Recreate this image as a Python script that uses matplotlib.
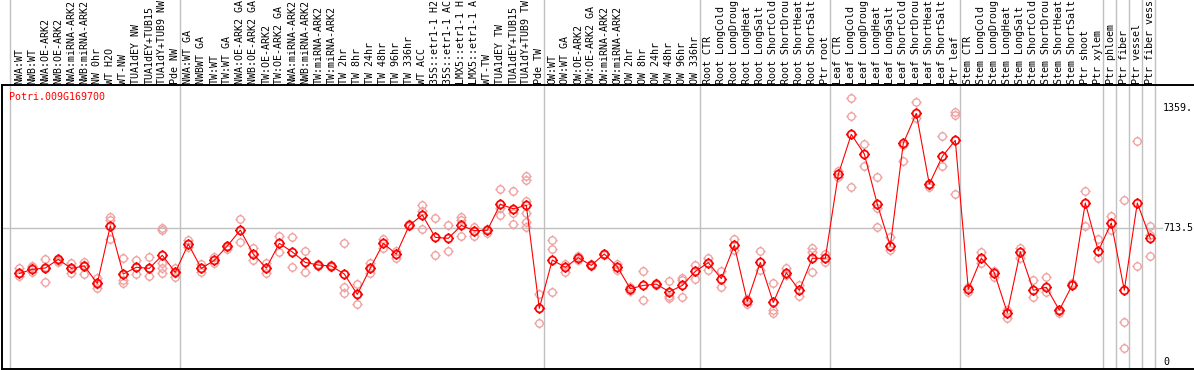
import matplotlib
matplotlib.use("Agg")
import matplotlib.pyplot as plt
from matplotlib.path import Path

gene = "Potri.009G169700"

labels = [
    "NWA:WT", "NWB:WT", "NWA:OE-ARK2", "NWB:OE-ARK2", "NWA:miRNA-ARK2", "NWB:miRNA-ARK2",
    "NW 0hr", "WT H2O", "WT-NW", "TUA1dEY NW", "TUA1dEY+TUB15", "TUA1dY+TUB9 NW", "Pde NW",
    "NWA:WT GA", "NWBWT GA", "TW:WT", "TW:WT GA", "NWA:OE-ARK2 GA", "NWB:OE-ARK2 GA",
    "TW:OE-ARK2", "TW:OE-ARK2 GA", "NWA:miRNA-ARK2", "NWB:miRNA-ARK2", "TW:miRNA-ARK2",
    "TW:miRNA-ARK2", "TW 2hr", "TW 8hr", "TW 24hr", "TW 48hr", "TW 96hr", "TW 336hr",
    "WT ACC", "35S::etr1-1 H2", "35S::etr1-1 AC", "LMX5::etr1-1 H", "LMX5::etr1-1 A",
    "WT-TW", "TUA1dEY TW", "TUA1dEY+TUB15", "TUA1dY+TUB9 TW", "Pde TW",
    "OW:WT", "OW:WT GA", "OW:OE-ARK2", "OW:OE-ARK2 GA", "OW:miRNA-ARK2", "OW:miRNA-ARK2",
    "OW 2hr", "OW 8hr", "OW 24hr", "OW 48hr", "OW 96hr", "OW 336hr",
    "Root CTR", "Root LongCold", "Root LongDroug", "Root LongHeat", "Root LongSalt",
    "Root ShortCold", "Root ShortDrou", "Root ShortHeat", "Root ShortSalt", "Ptr root",
    "Leaf CTR", "Leaf LongCold", "Leaf LongDroug", "Leaf LongHeat", "Leaf LongSalt",
    "Leaf ShortCold", "Leaf ShortDrou", "Leaf ShortHeat", "Leaf ShortSalt", "Ptr leaf",
    "Stem CTR", "Stem LongCold", "Stem LongDroug", "Stem LongHeat", "Stem LongSalt",
    "Stem ShortCold", "Stem ShortDrou", "Stem ShortHeat", "Stem ShortSalt", "Ptr shoot",
    "Ptr xylem", "Ptr phloem", "Ptr fiber", "Ptr vessel", "Ptr fiber vess",
]

means = [
    472, 494, 501, 547, 499, 512, 419, 726, 469, 505, 499, 569, 478,
    629, 499, 542, 619, 704, 576, 501, 633, 587, 531, 517, 512, 469, 360, 501, 633,
    576, 729, 785, 665, 660, 729, 701, 703, 842, 818, 836, 285,
    544, 505, 556, 515, 576, 508, 390, 408, 415, 374, 408, 483,
    530, 444, 622, 323, 531, 317, 476, 382, 553, 553,
    1002, 1216, 1111, 842, 619, 1168, 1328, 950, 1098, 1184,
    387, 553, 476, 262, 588, 382, 398, 276, 410, 849, 592,
    742, 382, 849, 660,
]

replicates = [
    [503, 458, 472], [512, 481, 505], [549, 424, 508], [535, 540, 545], [530, 472, 499],
    [535, 467, 517], [446, 392, 415], [772, 758, 654], [553, 437, 419], [542, 467, 508],
    [560, 458, 499], [715, 704, 526, 499, 472], [503, 451, 476],
    [651, 615], [522, 481], [558, 526], [615, 604], [761, 642], [606, 544], [530, 476],
    [672, 588], [667, 505], [590, 478], [521, 512], [508, 516], [633, 401, 366],
    [415, 308, 360], [526, 472, 499], [658, 606], [594, 553], [724, 734],
    [836, 808, 708], [768, 569], [729, 590], [772, 758, 670], [719, 674], [686, 708],
    [922, 820, 783], [913, 793, 735], [993, 972, 861, 797, 747, 722], [362, 205],
    [651, 601, 373], [522, 480], [567, 544], [522, 510], [576, 570], [522, 490],
    [401, 380], [487, 328], [410, 420], [430, 351, 339], [447, 437, 348], [517, 444],
    [556, 490], [487, 398], [656, 597], [333, 308], [590, 490], [419, 276, 258],
    [503, 464], [410, 353], [606, 588, 478], [576, 535],
    [1022, 990], [1409, 1314, 933], [1163, 1047], [990, 820, 720], [665, 597],
    [1073, 1159], [1387, 1302], [932, 945], [1207, 1047], [1337, 1319, 895],
    [401, 374], [585, 526], [487, 451], [276, 232], [610, 556], [437, 348],
    [451, 371], [262, 270], [419, 412], [913, 726], [654, 553],
    [779, 704], [865, 210, 73], [1180, 512], [727, 678, 565],
]

group_ends = [12, 40, 52, 62, 72, 83, 84, 85, 86, 87]
ref_value = 713.5
tick_values = [1359, 713.5, 0]
tick_texts = ["1359.", "713.5", "0"]

W, H = 1194, 370
fig = plt.figure(figsize=(W / 100, H / 100), dpi=100)

left_px, right_px = 1.5, 1200
top_px, bot_px = 85, 369
ax = fig.add_axes([left_px / W, (H - bot_px) / H, (right_px - left_px) / W, (bot_px - top_px) / H])

x0_px, step_px = 19.3, 13.0
ax.set_xlim((left_px - x0_px) / step_px, (right_px - x0_px) / step_px)
zero_px, scale = 361.7, 0.18697
ax.set_ylim((zero_px - bot_px) / scale, (zero_px - top_px) / scale)

for s in ["left", "top", "bottom"]:
    ax.spines[s].set_linewidth(1.4)
    ax.spines[s].set_color("black")
ax.spines["right"].set_visible(False)
ax.set_xticks([])
ax.set_yticks([])

mono = "DejaVu Sans Mono"
ext = (bot_px - 0) / (bot_px - top_px)

grid_x = [-0.70] + [k + 0.385 for k in group_ends]
for gx in grid_x:
    ax.axvline(gx, ymin=0, ymax=ext, color="#c0c0c0", lw=1.0, clip_on=False, zorder=0)

ax.axhline(ref_value, xmin=0, xmax=(1162 - left_px) / (right_px - left_px), color="#c0c0c0", lw=1.0, zorder=0)

circ = Path.unit_circle()
tverts = [(0, 1), (0, 1.4), (0, -1), (0, -1.4), (1, 0), (1.4, 0), (-1, 0), (-1.4, 0)]
tcodes = [Path.MOVETO, Path.LINETO] * 4
mpath = Path.make_compound_path(circ, Path(tverts, tcodes))

xs = list(range(len(means)))
for i, reps in enumerate(replicates):
    ax.plot([i] * len(reps), reps, linestyle="none", marker=mpath, markersize=7.4,
            markerfacecolor="none", markeredgecolor="#f0a0a0", markeredgewidth=0.95, zorder=2)

ax.plot(xs, means, color="#ff0000", lw=0.8, zorder=3)
ax.plot(xs, means, linestyle="none", marker=mpath, markersize=7.8, markerfacecolor="none",
        markeredgecolor="#ff0000", markeredgewidth=1.25, zorder=4)

label_y = 1.0 + 1.5 / (bot_px - top_px)
for i, lab in enumerate(labels):
    ax.text(i, label_y, lab, transform=ax.get_xaxis_transform(), rotation=90,
            ha="center", va="bottom", fontsize=7.2, family=mono, color="black")

fig.text(9.3 / W, 1 - 97 / H, gene, color="#ff0000", fontsize=7.2, family=mono, ha="left", va="center")

for v, s in zip(tick_values, tick_texts):
    ax.text((1163 - x0_px) / step_px, v, s, fontsize=7.2, family=mono, ha="left", va="center", color="black")

fig.savefig("out.png", dpi=100)
